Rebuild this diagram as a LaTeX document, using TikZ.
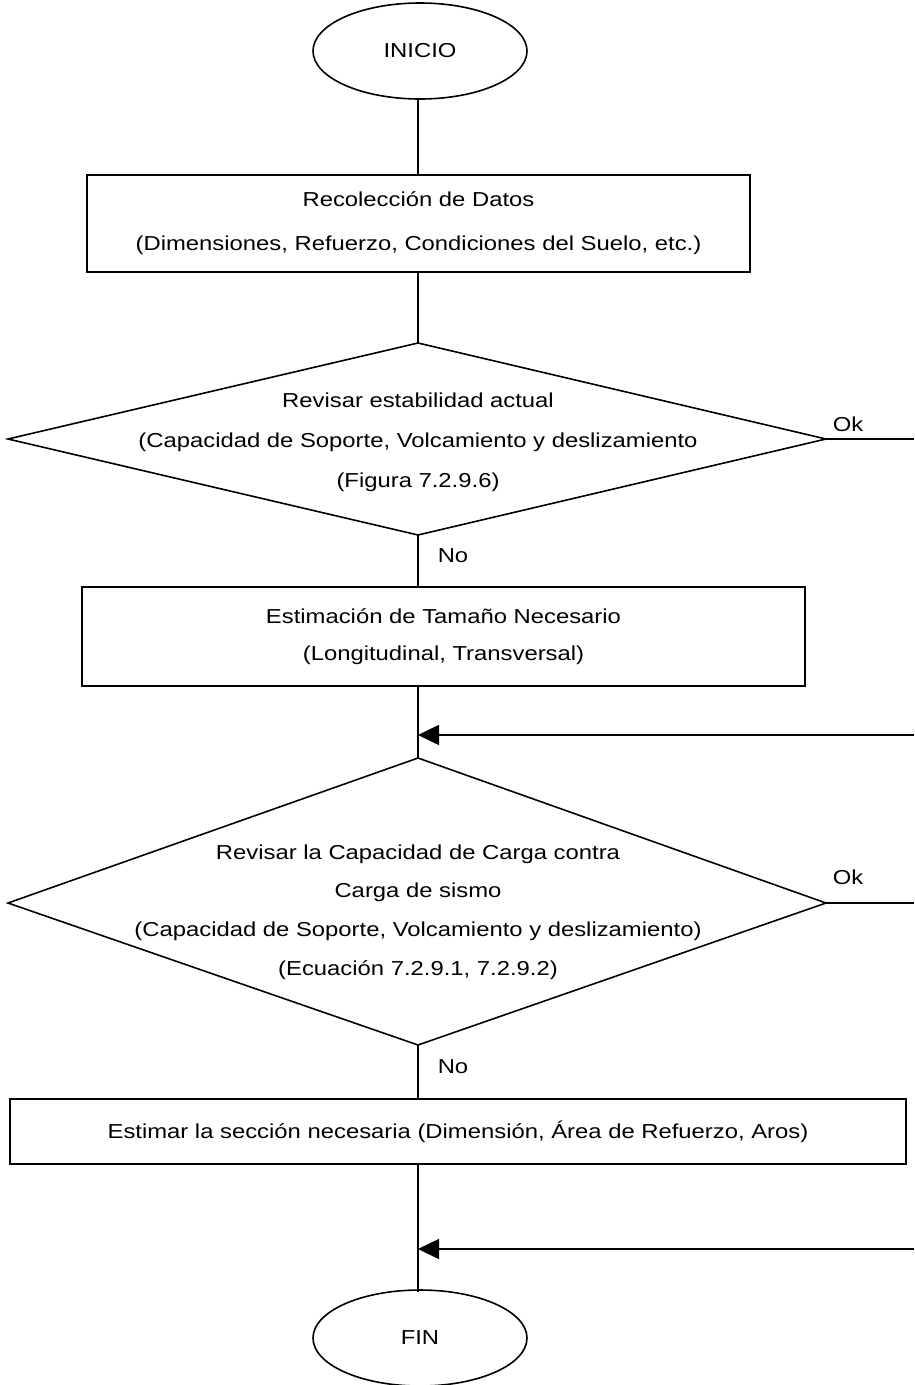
\documentclass[tikz,border=0pt]{standalone}
\usepackage{fontspec}
\setmainfont[FakeStretch=1.18]{Liberation Sans}
\usetikzlibrary{arrows.meta,shapes.geometric}

\begin{document}
\begin{tikzpicture}[x=1pt,y=-1pt,line width=1.6pt,
  txt/.style={font=\fontsize{20.2}{40}\selectfont,align=center,inner sep=0pt},
  terminal/.style={draw,ellipse,minimum width=214pt,minimum height=96pt,inner sep=0pt,
    font=\fontsize{20.2}{26}\selectfont},
  procbox/.style={draw,rectangle,inner sep=0pt,txt},
  lbl/.style={font=\fontsize{20.2}{26}\selectfont,inner sep=0pt},
  flow/.style={-{Triangle[length=21pt,width=20pt]}}]
\useasboundingbox (0,0) rectangle (914,1385);

% start / end
\node[terminal] (ini) at (420,51) {INICIO};
\node[terminal] (fin) at (420,1338) {FIN};

% data collection
\node[procbox,minimum width=663pt,minimum height=97pt,
  font=\fontsize{20.2}{44}\selectfont] (datos) at (418.5,223.5)
  {Recolección de Datos\\(Dimensiones, Refuerzo, Condiciones del Suelo, etc.)};

% first check: diamond corners and its text
\coordinate (d1n) at (418,343);
\coordinate (d1e) at (826,439);
\coordinate (d1s) at (418,535);
\coordinate (d1w) at (8,439);
\draw (d1n) -- (d1e) -- (d1s) -- (d1w) -- cycle;
\node[txt] (d1) at (418,442)
  {Revisar estabilidad actual\\(Capacidad de Soporte, Volcamiento y deslizamiento\\(Figura 7.2.9.6)};

% required size
\node[procbox,minimum width=723pt,minimum height=99pt,
  font=\fontsize{20.2}{37}\selectfont] (tam) at (443.5,636.5)
  {Estimación de Tamaño Necesario\\(Longitudinal, Transversal)};
\coordinate (tamt) at (418,587);
\coordinate (tamb) at (418,686);

% seismic check: diamond corners and its text
\coordinate (d2n) at (418,758);
\coordinate (d2e) at (826,903);
\coordinate (d2s) at (418,1045);
\coordinate (d2w) at (8,903);
\draw (d2n) -- (d2e) -- (d2s) -- (d2w) -- cycle;
\node[txt,font=\fontsize{20.2}{38.7}\selectfont] (d2) at (418,912)
  {Revisar la Capacidad de Carga contra\\Carga de sismo\\(Capacidad de Soporte, Volcamiento y deslizamiento)\\(Ecuación 7.2.9.1, 7.2.9.2)};

% required section
\node[procbox,minimum width=896pt,minimum height=65pt] (sec) at (458,1131.5)
  {Estimar la sección necesaria (Dimensión, Área de Refuerzo, Aros)};
\coordinate (sect) at (418,1099);
\coordinate (secb) at (418,1164);

% branch ends leaving the sheet
\coordinate (ok1) at (914,439);
\coordinate (ok2) at (914,903);
\coordinate (in1) at (914,735);
\coordinate (in2) at (914,1249);
\coordinate (j1) at (418,735);
\coordinate (j2) at (418,1249);
\coordinate (inib) at (418,99);
\coordinate (datt) at (418,175);
\coordinate (datb) at (418,272);
\coordinate (fint) at (418,1292);

% main flow
\draw (inib) -- (datt);
\draw (datb) -- (d1n);
\draw (d1s) -- (tamt);
\draw (tamb) -- (d2n);
\draw (d2s) -- (sect);
\draw (secb) -- (fint);

% side branches
\draw (d1e) -- (ok1);
\draw (d2e) -- (ok2);
\draw[flow] (in1) -- (j1);
\draw[flow] (in2) -- (j2);

% branch labels
\node[lbl] (ok1l) at (848,424) {Ok};
\node[lbl] (ok2l) at (848,877) {Ok};
\node[lbl] (no1l) at (453,556) {No};
\node[lbl] (no2l) at (453,1067) {No};
\end{tikzpicture}
\end{document}
